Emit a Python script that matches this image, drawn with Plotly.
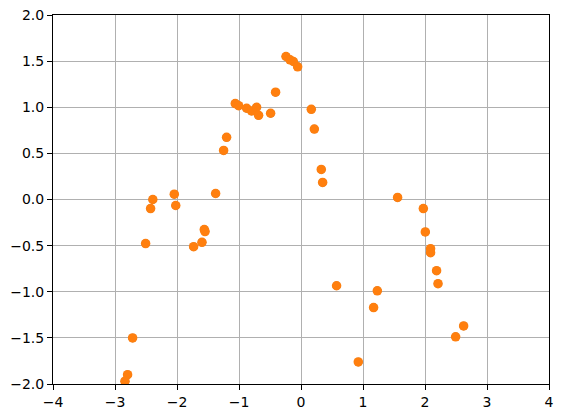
import plotly.graph_objects as go

# scatter points
X = [-0.242, -0.177, -0.124, -0.054, -0.41, -1.06, -1.006, -0.877, -0.797, -0.716,
     -0.684, -0.49, 0.166, 0.215, -1.2, -1.248, -1.377, -2.044, -2.02, -2.39,
     -2.426, 0.327, 0.349, 1.558, 1.973, -2.506, -1.732, -1.597, -1.56, -1.548,
     -2.716, -2.797, -2.839, 2.005, 2.09, 2.09, 2.187, 2.21, 0.574, 1.231,
     1.171, 2.623, 2.494, 0.924]
Y = [1.55, 1.514, 1.496, 1.438, 1.163, 1.04, 1.017, 0.989, 0.96, 1.0,
     0.913, 0.935, 0.978, 0.764, 0.674, 0.532, 0.065, 0.058, -0.065, 0.0,
     -0.098, 0.326, 0.185, 0.022, -0.098, -0.478, -0.511, -0.464, -0.326, -0.348,
     -1.5, -1.899, -1.97, -0.352, -0.533, -0.576, -0.772, -0.913, -0.935, -0.99,
     -1.171, -1.37, -1.489, -1.761]

BLUE = '#1f77b4'
ORANGE = '#ff7f0e'

fig = go.Figure()
fig.add_trace(go.Scatter(x=X, y=Y, mode="markers", marker=dict(color=BLUE, size=8.5, line=dict(width=0))))
fig.add_trace(go.Scatter(x=X, y=Y, mode="markers", marker=dict(color=ORANGE, size=9.5, line=dict(width=0))))

axis_style = dict(
  showgrid=True, gridcolor='#b0b0b0', gridwidth=1,
  showline=True, linecolor='black', linewidth=1, mirror=True,
  ticks='outside', ticklen=5, tickwidth=1, tickcolor='black',
  zeroline=False, automargin=False,
  tickfont=dict(family='DejaVu Sans', size=14, color='black'),
)
fig.update_xaxes(range=[-4, 4], tick0=-4, dtick=1, **axis_style)
fig.update_yaxes(range=[-2, 2], tick0=-2, dtick=0.5, tickformat='.1f', **axis_style)

fig.layout.update(
  width=563, height=418,
  margin=dict(l=53, r=14, t=15, b=34),
  plot_bgcolor='white', paper_bgcolor='white',
  showlegend=False,
)

config = {'displayModeBar': False}

# drop the default page margin so the figure sits at the window corner
fig.write_html("out.html", config=config, post_script="document.body.style.margin='0';")
